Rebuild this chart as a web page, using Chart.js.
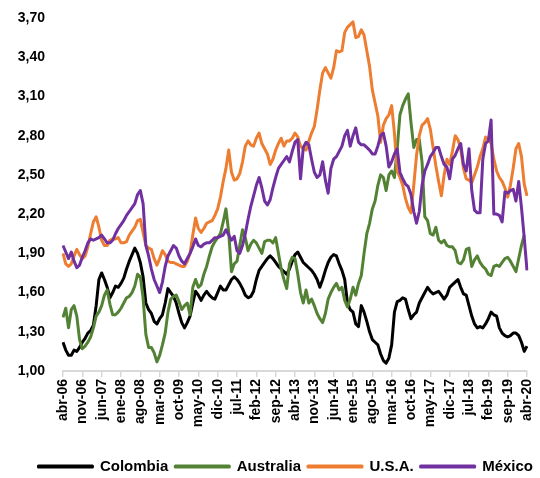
<!DOCTYPE html>
<html><head><meta charset="utf-8">
<script src="https://cdn.jsdelivr.net/npm/chart.js@4.4.1/dist/chart.umd.min.js"></script>
<style>html,body{margin:0;padding:0;background:#fff;}</style>
</head><body>
<canvas id="c" width="540" height="478"></canvas>
<script>
// Categories: monthly from abr-06 to abr-20
const monthNames = ['ene','feb','mar','abr','may','jun','jul','ago','sep','oct','nov','dic'];
const startMonthIndex = 3, startYear = 2006, monthCount = 169;
const categories = [];
for (let i = 0; i < monthCount; i++) {
  const m = (startMonthIndex + i) % 12;
  const y = startYear + Math.floor((startMonthIndex + i) / 12);
  categories.push(monthNames[m] + '-' + String(y % 100).padStart(2, '0'));
}
const tickEvery = 7;
const yTicks = [1.00, 1.30, 1.60, 1.90, 2.20, 2.50, 2.80, 3.10, 3.40, 3.70];

const colombia = [
1.22,1.16,1.12,1.12,1.16,1.15,1.18,1.22,1.25,1.29,
1.31,1.35,1.50,1.70,1.75,1.70,1.64,1.56,1.60,1.65,
1.64,1.67,1.71,1.78,1.84,1.89,1.94,1.90,1.83,1.72,
1.52,1.47,1.44,1.38,1.36,1.40,1.43,1.52,1.63,1.60,
1.57,1.52,1.44,1.37,1.33,1.37,1.42,1.52,1.61,1.58,
1.54,1.58,1.61,1.58,1.56,1.55,1.60,1.65,1.62,1.62,
1.66,1.70,1.72,1.70,1.67,1.63,1.58,1.56,1.57,1.61,
1.70,1.77,1.80,1.83,1.86,1.88,1.86,1.83,1.80,1.78,
1.76,1.74,1.78,1.84,1.89,1.91,1.87,1.83,1.81,1.79,
1.77,1.74,1.70,1.64,1.70,1.77,1.83,1.87,1.89,1.88,
1.82,1.77,1.70,1.52,1.47,1.45,1.36,1.34,1.50,1.45,
1.38,1.30,1.24,1.22,1.20,1.13,1.08,1.06,1.10,1.20,
1.45,1.53,1.54,1.56,1.55,1.47,1.40,1.43,1.45,1.52,
1.56,1.60,1.64,1.61,1.59,1.60,1.61,1.58,1.55,1.58,
1.64,1.66,1.68,1.70,1.64,1.59,1.58,1.50,1.42,1.36,
1.33,1.34,1.33,1.36,1.40,1.45,1.43,1.42,1.33,1.29,
1.27,1.26,1.27,1.29,1.29,1.27,1.22,1.15,1.19];

const australia = [
1.41,1.48,1.33,1.47,1.50,1.42,1.24,1.17,1.19,1.22,
1.26,1.33,1.42,1.45,1.50,1.58,1.62,1.51,1.43,1.43,
1.45,1.48,1.52,1.56,1.57,1.60,1.65,1.74,1.72,1.56,
1.28,1.18,1.18,1.14,1.07,1.12,1.20,1.29,1.45,1.55,
1.57,1.58,1.53,1.47,1.50,1.52,1.43,1.64,1.70,1.64,
1.66,1.74,1.80,1.88,1.95,1.99,2.02,2.05,2.14,2.24,
2.06,1.76,1.82,1.84,1.96,2.08,2.02,1.92,1.97,2.00,
1.98,1.94,1.90,1.99,2.00,2.00,1.98,2.02,1.90,1.78,
1.70,1.63,1.82,1.87,1.86,1.74,1.60,1.52,1.62,1.52,
1.55,1.50,1.44,1.40,1.37,1.44,1.55,1.60,1.64,1.67,
1.62,1.64,1.54,1.49,1.55,1.64,1.58,1.67,1.73,1.90,
2.05,2.13,2.24,2.30,2.42,2.50,2.48,2.38,2.50,2.53,
2.48,2.70,2.96,3.03,3.08,3.12,2.90,2.71,2.77,2.77,
2.60,2.18,2.15,2.05,2.04,2.10,2.00,1.98,2.00,1.96,
1.95,1.95,1.92,1.83,1.82,1.85,1.93,1.94,1.80,1.85,
1.88,1.83,1.80,1.78,1.74,1.73,1.80,1.81,1.80,1.83,
1.86,1.87,1.84,1.80,1.76,1.86,1.96,2.04];

const usa = [
1.90,1.82,1.80,1.82,1.88,1.93,1.89,1.86,1.88,1.95,
2.05,2.14,2.18,2.10,2.00,1.96,1.96,2.00,2.01,2.01,
2.02,1.98,1.98,1.99,2.04,2.07,2.10,2.15,2.16,2.06,
1.96,1.94,1.93,1.86,1.81,1.86,1.92,1.89,1.84,1.83,
1.83,1.82,1.81,1.80,1.80,1.84,1.90,2.04,2.17,2.09,
2.06,2.09,2.13,2.14,2.15,2.19,2.24,2.33,2.45,2.55,
2.69,2.52,2.46,2.47,2.51,2.60,2.72,2.76,2.73,2.72,
2.78,2.82,2.74,2.70,2.66,2.58,2.62,2.69,2.74,2.78,
2.72,2.76,2.76,2.78,2.82,2.79,2.72,2.70,2.69,2.76,
2.82,2.87,3.00,3.15,3.28,3.32,3.28,3.24,3.32,3.45,
3.44,3.45,3.59,3.63,3.65,3.67,3.55,3.56,3.61,3.57,
3.45,3.33,3.15,3.05,2.95,2.75,2.88,2.93,2.96,3.03,
2.82,2.53,2.48,2.42,2.32,2.25,2.21,2.42,2.65,2.80,
2.88,2.90,2.93,2.85,2.71,2.57,2.45,2.34,2.50,2.62,
2.58,2.68,2.80,2.77,2.70,2.55,2.47,2.46,2.44,2.50,
2.56,2.64,2.70,2.79,2.77,2.74,2.62,2.53,2.48,2.45,
2.40,2.33,2.42,2.55,2.70,2.74,2.64,2.43,2.34];

const mexico = [
1.96,1.91,1.86,1.91,1.84,1.79,1.81,1.87,1.92,1.98,
2.01,2.00,2.01,2.02,2.04,2.01,1.98,1.98,2.00,2.05,
2.09,2.12,2.15,2.19,2.22,2.25,2.28,2.35,2.38,2.28,
1.96,1.88,1.78,1.70,1.65,1.60,1.68,1.80,1.88,1.92,
1.96,1.94,1.88,1.84,1.82,1.86,1.90,1.95,2.01,1.96,
1.95,1.97,1.98,1.98,2.00,2.02,2.02,2.03,2.04,2.08,
2.04,2.00,2.03,1.92,1.90,1.96,2.05,2.16,2.26,2.34,
2.42,2.48,2.40,2.30,2.27,2.31,2.40,2.48,2.55,2.58,
2.61,2.64,2.60,2.68,2.75,2.77,2.47,2.71,2.75,2.73,
2.62,2.52,2.48,2.50,2.60,2.46,2.36,2.55,2.62,2.64,
2.68,2.72,2.80,2.84,2.72,2.80,2.86,2.75,2.73,2.73,
2.71,2.69,2.66,2.66,2.72,2.80,2.82,2.72,2.56,2.60,
2.66,2.70,2.52,2.47,2.43,2.41,2.35,2.22,2.13,2.22,
2.42,2.53,2.58,2.64,2.67,2.71,2.71,2.64,2.58,2.56,
2.47,2.62,2.65,2.70,2.74,2.58,2.53,2.70,2.38,2.23,
2.21,2.21,2.62,2.74,2.76,2.92,2.20,2.20,2.19,2.14,
2.37,2.36,2.38,2.39,2.30,2.45,2.25,2.02,1.77];

const seriesNames = ['Colombia', 'Australia', 'U.S.A.', 'México'];
const seriesColors = ['#000000', '#548235', '#ED7D31', '#7030A0'];
const seriesData = [colombia, australia, usa, mexico];

const FONT = "'Liberation Sans',Arial,sans-serif";

new Chart(document.getElementById('c'), {
  type: 'line',
  data: {
    labels: categories,
    datasets: seriesData.map((d, k) => ({
      label: seriesNames[k],
      data: d,
      borderColor: seriesColors[k],
      backgroundColor: seriesColors[k],
      borderWidth: 3,
      pointRadius: 0,
      tension: 0,
      borderJoinStyle: 'round',
      fill: false,
      order: seriesData.length - k
    }))
  },
  options: {
    responsive: false,
    animation: false,
    layout: { padding: { top: 0, right: 0, bottom: -6, left: 0 } },
    scales: {
      x: {
        type: 'category',
        offset: false,
        grid: { display: true, drawOnChartArea: false, drawTicks: true, tickLength: 6, color: '#d9d9d9', lineWidth: 1.5 },
        border: { display: true, color: '#d9d9d9', width: 2 },
        ticks: {
          autoSkip: false, maxRotation: 90, minRotation: 90, padding: 2, color: '#000',
          font: { family: FONT, size: 14, weight: 'bold' },
          callback: function (v, i) { return i % tickEvery === 0 ? this.getLabelForValue(v) : null; }
        },
        afterFit: s => { s.height = 81; s.paddingRight = 13; s.paddingLeft = 0; }
      },
      y: {
        min: 1, max: 3.7,
        grid: { display: false, drawTicks: false },
        border: { display: false },
        ticks: {
          padding: 18, color: '#000',
          font: { family: FONT, size: 14, weight: 'bold' },
          callback: v => Number(v).toFixed(2).replace('.', ',')
        },
        afterBuildTicks: s => { s.ticks = yTicks.map(v => ({ value: v })); },
        afterFit: s => { s.width = 63; s.paddingTop = 18; s.paddingBottom = 0; }
      }
    },
    plugins: {
      legend: {
        position: 'bottom',
        align: 'end',
        labels: {
          boxWidth: 54, boxHeight: 1, padding: 7, color: '#000',
          font: { family: FONT, size: 15, weight: 'bold' },
          sort: (a, b) => a.datasetIndex - b.datasetIndex
        }
      },
      tooltip: { enabled: false }
    }
  }
});
</script>
</body></html>
